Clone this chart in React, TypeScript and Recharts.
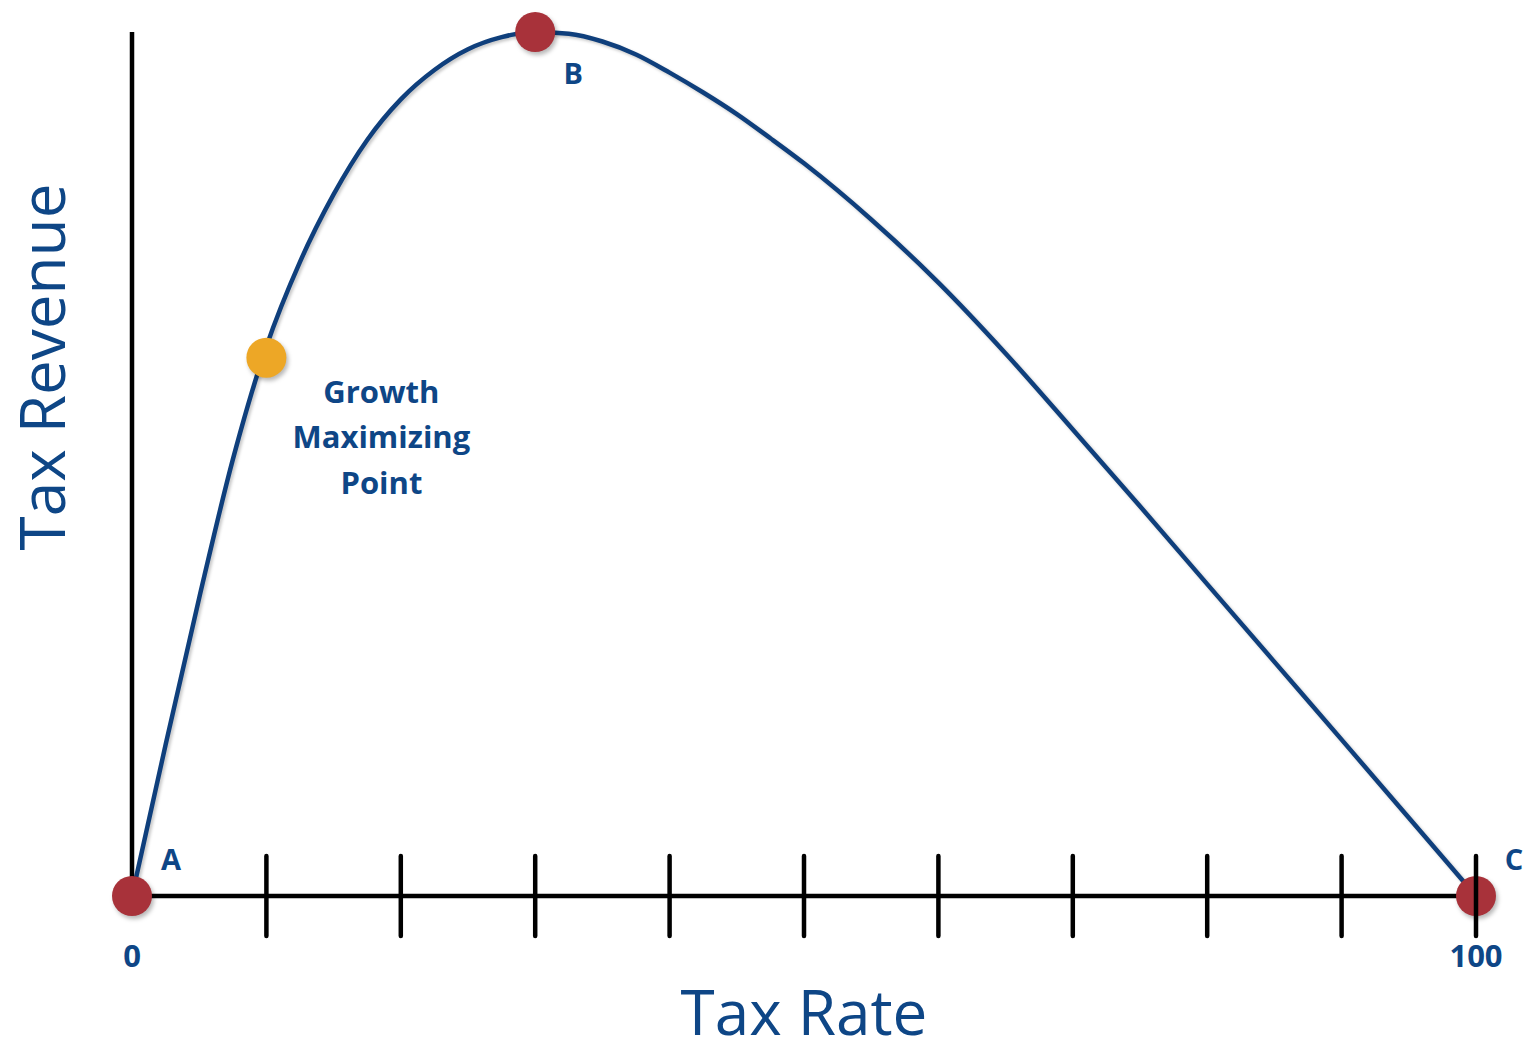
import React from 'react';
import { LineChart, Line, XAxis, YAxis, ReferenceDot, Label } from 'recharts';

// ---- data ----
const taxRate = [0, 2.5, 5, 7.5, 10, 12.5, 15, 17.5, 20, 22.5, 25, 27.5, 30, 32.5, 35, 37.5, 40, 42.5, 45, 47.5, 50, 55, 60, 65, 70, 75, 80, 85, 90, 95, 100];
const taxRevenue = [0, 17.5, 34.5, 50.5, 63.6, 73.4, 81.2, 87.5, 92.2, 95.6, 98.0, 99.4, 100, 99.8, 98.9, 97.4, 95.3, 93.0, 90.5, 87.7, 84.8, 78.3, 71.0, 62.8, 54.0, 45.1, 36.1, 27.1, 18.1, 9.05, 0];
const xTicks = [0, 10, 20, 30, 40, 50, 60, 70, 80, 90, 100];
const tickLabels: Record<number, string> = { 0: '0', 100: '100' };
const keyPoints = [
  { name: 'A', x: 0, y: 0 },
  { name: 'B', x: 30, y: 100 },
  { name: 'C', x: 100, y: 0 },
];
const growthPoint = { x: 10, y: 62.3, lines: ['Growth', 'Maximizing', 'Point'] };
const xTitle = 'Tax Rate';
const yTitle = 'Tax Revenue';

const data = taxRate.map((r, i) => ({ rate: r, revenue: taxRevenue[i] }));

const BLUE_LINE = '#0F3F7C';
const BLUE_TEXT = '#0E4686';
const RED = '#A8323A';
const ORANGE = '#EDA726';
const FONT = '"Open Sans", sans-serif';
const shadow = 'drop-shadow(2px 3px 2px rgba(0,0,0,0.28))';

const labelOffsets: Record<string, [number, number]> = {
  A: [39, -38],
  B: [38, 40],
  C: [38, -38],
};

const XTick = (props: any) => {
  const { x, y, payload } = props;
  const v = payload.value;
  const lbl = tickLabels[v];
  return (
    <g>
      {v !== 0 && (
        <line x1={x} x2={x} y1={y - 40} y2={y + 40} stroke="#000" strokeWidth={4.5} strokeLinecap="round" />
      )}
      {lbl !== undefined && (
        <text x={x} y={y + 59} textAnchor="middle" dominantBaseline="central" fill={BLUE_TEXT}
          fontFamily={FONT} fontWeight={700} fontSize={31}>{lbl}</text>
      )}
    </g>
  );
};

const KeyDot = (name: string) => (props: any) => {
  const { cx, cy } = props;
  const [dx, dy] = labelOffsets[name];
  return (
    <g>
      <circle cx={cx} cy={cy} r={20} fill={RED} style={{ filter: shadow }} />
      <text x={cx + dx} y={cy + dy} textAnchor="middle" dominantBaseline="central" fill={BLUE_TEXT}
        fontFamily={FONT} fontWeight={700} fontSize={29}>{name}</text>
    </g>
  );
};

const GrowthDot = (props: any) => {
  const { cx, cy } = props;
  return (
    <g>
      <circle cx={cx} cy={cy} r={20} fill={ORANGE} style={{ filter: shadow }} />
      {growthPoint.lines.map((t, i) => (
        <text key={t} x={cx + 115} y={cy + 33 + i * 45.5} textAnchor="middle" dominantBaseline="central"
          fill={BLUE_TEXT} fontFamily={FONT} fontWeight={700} fontSize={31}>{t}</text>
      ))}
    </g>
  );
};

export default function App() {
  return (
    <div style={{ width: 1524, height: 1043, background: '#fff', overflow: 'hidden' }}>
      <style>{`html, body { margin: 0; padding: 0; overflow: hidden; background: #fff; }
.recharts-line-curve { filter: drop-shadow(2px 2px 1.5px rgba(0,0,0,0.22)); }`}</style>
      <LineChart width={1524} height={1043} data={data} margin={{ top: 32, right: 48, bottom: 0, left: 0 }}>
        <XAxis
          dataKey="rate"
          type="number"
          domain={[0, 100]}
          ticks={xTicks}
          interval={0}
          height={147}
          axisLine={{ stroke: '#000', strokeWidth: 4.5 }}
          tickLine={false}
          tickSize={0}
          tickMargin={0}
          tick={<XTick />}
        >
          <Label
            content={(p: any) => {
              const vb = p.viewBox;
              return (
                <text x={vb.x + vb.width / 2} y={vb.y + 115} textAnchor="middle" dominantBaseline="central"
                  fill={BLUE_TEXT} fontFamily={FONT} fontSize={62}>{xTitle}</text>
              );
            }}
          />
        </XAxis>
        <YAxis
          type="number"
          domain={[0, 100]}
          width={132}
          axisLine={{ stroke: '#000', strokeWidth: 4.5 }}
          tick={false}
          tickLine={false}
        >
          <Label
            content={(p: any) => {
              const vb = p.viewBox;
              const cx = 41;
              const cy = vb.y + 335;
              return (
                <text x={cx} y={cy} transform={`rotate(-90 ${cx} ${cy})`} textAnchor="middle" dominantBaseline="central"
                  fill={BLUE_TEXT} fontFamily={FONT} fontSize={62}>{yTitle}</text>
              );
            }}
          />
        </YAxis>
        <Line
          type="monotone"
          dataKey="revenue"
          stroke={BLUE_LINE}
          strokeWidth={4.5}
          dot={false}
          activeDot={false}
          isAnimationActive={false}
        />
        <ReferenceDot x={growthPoint.x} y={growthPoint.y} r={20} ifOverflow="visible" shape={GrowthDot} />
        {keyPoints.map((k) => (
          <ReferenceDot key={k.name} x={k.x} y={k.y} r={20} ifOverflow="visible" shape={KeyDot(k.name)} />
        ))}
      </LineChart>
    </div>
  );
}
